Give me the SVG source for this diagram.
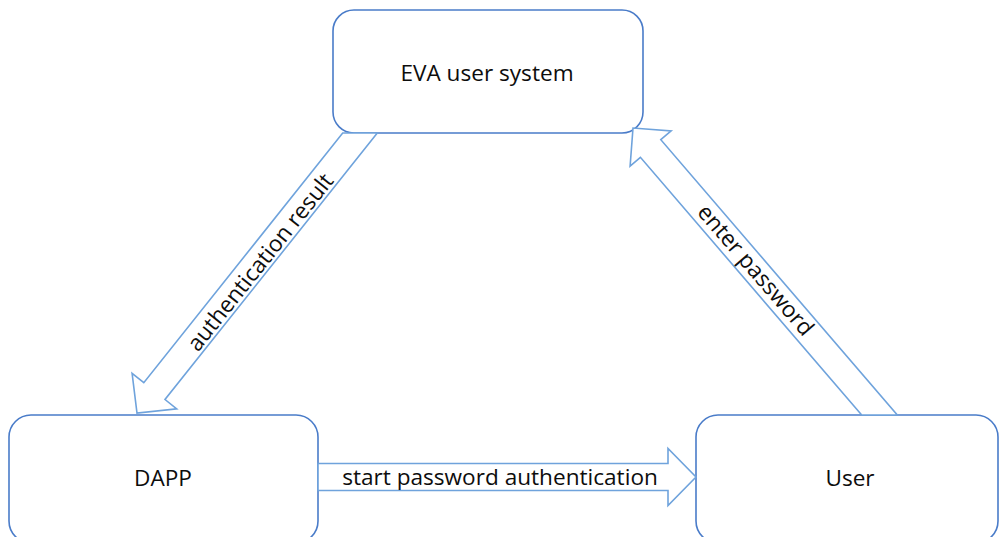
<svg xmlns="http://www.w3.org/2000/svg" width="1000" height="537" viewBox="0 0 1000 537">
<style>
.box{fill:#ffffff;stroke:#4A7CC9;stroke-width:1.6}
.arr{fill:#ffffff;stroke:#6FA3DC;stroke-width:1.6;stroke-linejoin:miter}
.lbl{font-family:"Open Sans","Liberation Sans",sans-serif;font-size:22.6px;fill:#0d0d0d;text-anchor:middle}
</style>
<rect width="1000" height="537" fill="#ffffff"/>
<g id="node-eva">
<rect class="box" x="333" y="10" width="310" height="123" rx="21" ry="21"/>
<text class="lbl" x="487" y="81">EVA user system</text>
</g>
<g id="node-dapp">
<rect class="box" x="9" y="415" width="309" height="128" rx="22" ry="22"/>
<text class="lbl" x="163" y="486">DAPP</text>
</g>
<g id="node-user">
<rect class="box" x="696" y="415" width="302" height="128" rx="22" ry="22"/>
<text class="lbl" x="850" y="486">User</text>
</g>
<g id="connectors">
<g id="edge-auth-result">
<polygon class="arr" points="377.3,133 165.0,399.5 176.7,408.9 137,413 132.1,373.3 143.8,382.7 342.7,133"/>
<text class="lbl" transform="translate(260,262) rotate(-51.47)" x="0" y="8">authentication result</text>
</g>
<g id="edge-enter-password">
<polygon class="arr" points="861.7,415 640.4,157.3 630.1,166.1 633,128 671.1,130.9 660.8,139.7 897.3,415"/>
<text class="lbl" transform="translate(756,270) rotate(49.34)" x="0" y="8">enter password</text>
</g>
<g id="edge-start-auth">
<polygon class="arr" points="318,463.5 668,463.5 668,448.5 696,477 668,505.5 668,490.5 318,490.5"/>
<text class="lbl" x="500" y="485">start password authentication</text>
</g>
</g>
</svg>
